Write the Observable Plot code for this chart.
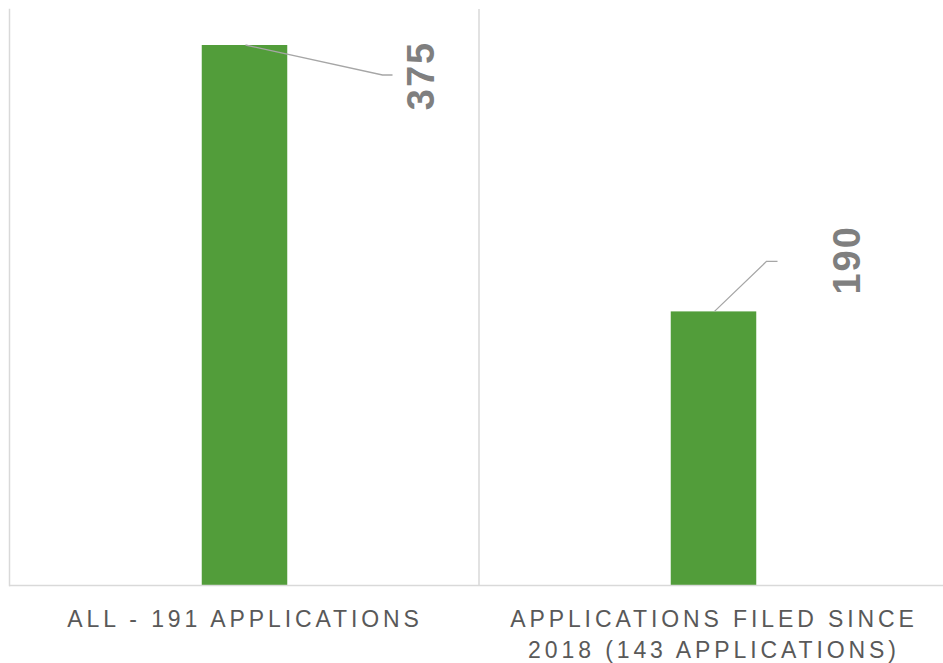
<!DOCTYPE html>
<html>
<head>
<meta charset="utf-8">
<script src="https://cdn.jsdelivr.net/npm/d3@7"></script>
<script src="https://cdn.jsdelivr.net/npm/@observablehq/plot@0.6"></script>
<style>
  html, body { margin: 0; padding: 0; background: #fff; overflow: hidden; }
  #chart svg { display: block; }
  #chart g[aria-label="x-axis tick label"] { letter-spacing: 3.9px; }
  #chart g[aria-label="text"] { letter-spacing: 2px; }
</style>
</head>
<body>
<div id="chart"></div>
<script>
// ---- data ----
const categories = ["ALL - 191 APPLICATIONS", "APPLICATIONS FILED SINCE\n2018 (143 APPLICATIONS)"];
const values = [375, 190];
const valueLabels = ["375", "190"];

const data = categories.map((c, i) => ({category: c, value: values[i], label: valueLabels[i]}));

// annotation layout (pixel offsets of data labels / leader elbows relative to bar top centre)
const labelDx = [177, 134];
const labelDy = [30, -52];
const elbowDx = [138, 53];
const endDx = [148, 64];
const elbowDy = [30, -50];

const green = "#529d3a";
const gridColor = "#d9d9d9";

function leaders(index, scales) {
  const x = scales.x, y = scales.y;
  const bw = x.bandwidth ? x.bandwidth() : 0;
  const g = d3.create("svg:g").attr("aria-label", "leader lines");
  data.forEach((d, i) => {
    const cx = x(d.category) + bw / 2;
    const cy = y(d.value);
    g.append("path")
      .attr("d", `M${cx + 1},${cy}L${cx + elbowDx[i]},${cy + elbowDy[i]}L${cx + endDx[i]},${cy + elbowDy[i]}`)
      .attr("fill", "none")
      .attr("stroke", "#a6a6a6")
      .attr("stroke-width", 1.3);
  });
  return g.node();
}

function separators(index, scales, values, dims) {
  const x = scales.x;
  const g = d3.create("svg:g").attr("aria-label", "category separators");
  categories.slice(1).forEach(c => {
    const px = x(c);
    g.append("line")
      .attr("x1", px).attr("x2", px)
      .attr("y1", dims.marginTop).attr("y2", dims.height - dims.marginBottom)
      .attr("stroke", gridColor).attr("stroke-width", 1.5);
  });
  return g.node();
}

const valueLabelMarks = data.map((d, i) => Plot.text([d], {
  x: "category", y: "value", text: "label",
  dx: labelDx[i], dy: labelDy[i], rotate: -90,
  fill: "#7f7f7f", fontWeight: "bold", fontSize: 38,
  textAnchor: "middle", lineAnchor: "middle"
}));

const chart = Plot.plot({
  width: 943,
  height: 663,
  marginTop: 9,
  marginLeft: 9,
  marginRight: 0,
  marginBottom: 78,
  style: {fontFamily: "'Liberation Sans', Arial, sans-serif", background: "#fff"},
  x: {type: "band", domain: categories, range: [9, 948], padding: 0, label: null},
  y: {domain: [0, 400], axis: null},
  marks: [
    Plot.frame({anchor: "left", stroke: gridColor, strokeWidth: 1.5}),
    separators,
    Plot.barY(data, {x: "category", y: "value", fill: green, insetLeft: 191.75, insetRight: 191.75}),
    Plot.ruleY([0], {stroke: gridColor, strokeWidth: 1.5}),
    leaders,
    ...valueLabelMarks,
    Plot.axisX({
      tickSize: 0, tickPadding: 19, fontSize: 23, lineHeight: 1.37,
      color: "#595959", label: null, lineAnchor: "top"
    })
  ]
});

document.getElementById("chart").append(chart);
</script>
</body>
</html>
